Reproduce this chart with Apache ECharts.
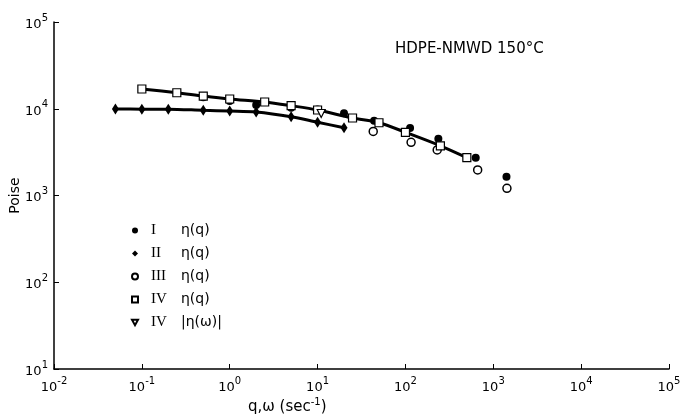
<!DOCTYPE html>
<html>
<head>
<meta charset="utf-8">
<script src="https://cdn.jsdelivr.net/npm/echarts@6/dist/echarts.min.js"></script>
<style>
html,body{margin:0;padding:0;background:#fff;}
#chart{width:683px;height:419px;}
</style>
</head>
<body>
<div id="chart"></div>
<script>
// Sample I: eta(q), filled circles
const qI   = [0.5, 1, 2, 5, 10, 20, 44, 113, 237, 631, 1413];
const etaI = [13550, 12280, 11040, 10280, 9800, 8870, 7280, 6000, 4520, 2730, 1650];
// Sample II: eta(q), filled diamonds (with line)
const qII   = [0.05, 0.1, 0.2, 0.5, 1, 2, 5, 10, 20];
const etaII = [9930, 9900, 9880, 9600, 9420, 9180, 8090, 6980, 6050];
// Sample III: eta(q), open circles
const qIII   = [43, 116, 230, 664, 1430];
const etaIII = [5470, 4100, 3350, 1970, 1210];
// Sample IV: eta(q), open squares (with line)
const qIV   = [0.1, 0.25, 0.5, 1, 2.5, 5, 10, 25, 50, 100, 250, 500];
const etaIV = [16900, 15300, 14000, 12950, 11960, 10840, 9680, 7820, 6900, 5350, 3740, 2730];
// Sample IV: |eta(omega)|, open down-triangles
const wIVd   = [11];
const etaIVd = [8820];

const legendNames = ['I|η(q)', 'II|η(q)', 'III|η(q)', 'IV|η(q)', 'IV||η(ω)|'];
const legendIcons = ['circle', 'diamond', 'circle', 'rect', 'path://M0,0 L10,0 L5,9 Z'];

function pairs(xs, ys){ return xs.map((x,i)=>[x, ys[i]]); }
function sup(v){
  const e = Math.round(Math.log10(v));
  return '{b|10}{s|' + e + '}';
}
const tickRich = {
  b: {fontSize: 13, color: '#000', fontFamily: 'DejaVu Sans', lineHeight: 18, verticalAlign: 'bottom'},
  s: {fontSize: 10, color: '#000', fontFamily: 'DejaVu Sans', lineHeight: 10, verticalAlign: 'top'}
};

const chart = echarts.init(document.getElementById('chart'));
chart.setOption({
  animation: false,
  backgroundColor: '#fff',
  title: {
    text: 'HDPE-NMWD 150°C',
    left: 390, top: 37,
    textStyle: {fontSize: 15, fontWeight: 'normal', color: '#000', fontFamily: 'DejaVu Sans'}
  },
  grid: {left: 54, right: 14, top: 22, bottom: 50, outerBoundsMode: 'none', containLabel: false},
  legend: {
    orient: 'vertical',
    left: 126, top: 218,
    itemWidth: 6, itemHeight: 6,
    itemGap: 8,
    data: legendNames.map((n, i) => ({name: n, icon: legendIcons[i]})),
    formatter: function(n){
      const p = n.split('|');
      const rest = p.slice(1).join('|');
      return '{r|' + p[0] + '}{e|' + rest + '}';
    },
    textStyle: {
      rich: {
        r: {fontFamily: 'Liberation Serif', fontSize: 15, color: '#000', width: 30, padding: [0,0,0,8]},
        e: {fontFamily: 'DejaVu Sans', fontSize: 14, color: '#000'}
      }
    }
  },
  xAxis: {
    type: 'log', logBase: 10, min: 0.01, max: 100000,
    axisLine: {show: true, onZero: false, lineStyle: {color: '#000', width: 1.5}},
    axisTick: {show: true, inside: true, length: 5, lineStyle: {color: '#000'}},
    minorTick: {show: false},
    splitLine: {show: false},
    axisLabel: {formatter: sup, rich: tickRich, margin: 7, color: '#000'}
  },
  yAxis: {
    type: 'log', logBase: 10, min: 10, max: 100000,
    name: 'Poise', nameLocation: 'middle', nameGap: 32, nameMoveOverlap: false,
    nameTextStyle: {fontSize: 14, color: '#000', fontFamily: 'DejaVu Sans'},
    axisLine: {show: true, lineStyle: {color: '#000', width: 1.5}},
    axisTick: {show: true, inside: true, length: 5, lineStyle: {color: '#000'}},
    splitLine: {show: false},
    axisLabel: {formatter: sup, rich: tickRich, margin: 6, color: '#000'}
  },
  graphic: [{
    type: 'text', left: 248, top: 397,
    style: {
      text: '{a|q,ω (sec}{s|-1}{a|)}',
      rich: {
        a: {fontSize: 15, fill: '#000', fontFamily: 'DejaVu Sans', lineHeight: 18, verticalAlign: 'bottom'},
        s: {fontSize: 10, fill: '#000', fontFamily: 'DejaVu Sans', lineHeight: 10, verticalAlign: 'top'}
      }
    }
  }],
  series: [
    {
      name: 'lineII', type: 'line', data: pairs(qII, etaII), showSymbol: false, symbol: 'none',
      smooth: 0.3, lineStyle: {color: '#000', width: 3}, z: 1, silent: true
    },
    {
      name: 'lineIV', type: 'line', data: pairs(qIV, etaIV), showSymbol: false, symbol: 'none',
      smooth: 0.3, lineStyle: {color: '#000', width: 3}, z: 1, silent: true
    },
    {
      name: legendNames[0], type: 'scatter', data: pairs(qI, etaI), symbol: 'circle', symbolSize: 8,
      itemStyle: {color: '#000', opacity: 1}, z: 3
    },
    {
      name: legendNames[1], type: 'scatter', data: pairs(qII, etaII), symbol: 'diamond', symbolSize: [7, 11],
      itemStyle: {color: '#000', opacity: 1}, z: 3
    },
    {
      name: legendNames[2], type: 'scatter', data: pairs(qIII, etaIII), symbol: 'circle', symbolSize: 8,
      itemStyle: {color: '#fff', borderColor: '#000', borderWidth: 1.5, opacity: 1}, z: 4
    },
    {
      name: legendNames[3], type: 'scatter', data: pairs(qIV, etaIV), symbol: 'rect', symbolSize: 8,
      itemStyle: {color: '#fff', borderColor: '#000', borderWidth: 1.2, opacity: 1}, z: 4
    },
    {
      name: legendNames[4], type: 'scatter', data: pairs(wIVd, etaIVd), symbol: 'triangle', symbolRotate: 180, symbolSize: 8,
      itemStyle: {color: '#fff', borderColor: '#000', borderWidth: 1.2, opacity: 1}, z: 5
    }
  ]
});
</script>
</body>
</html>
